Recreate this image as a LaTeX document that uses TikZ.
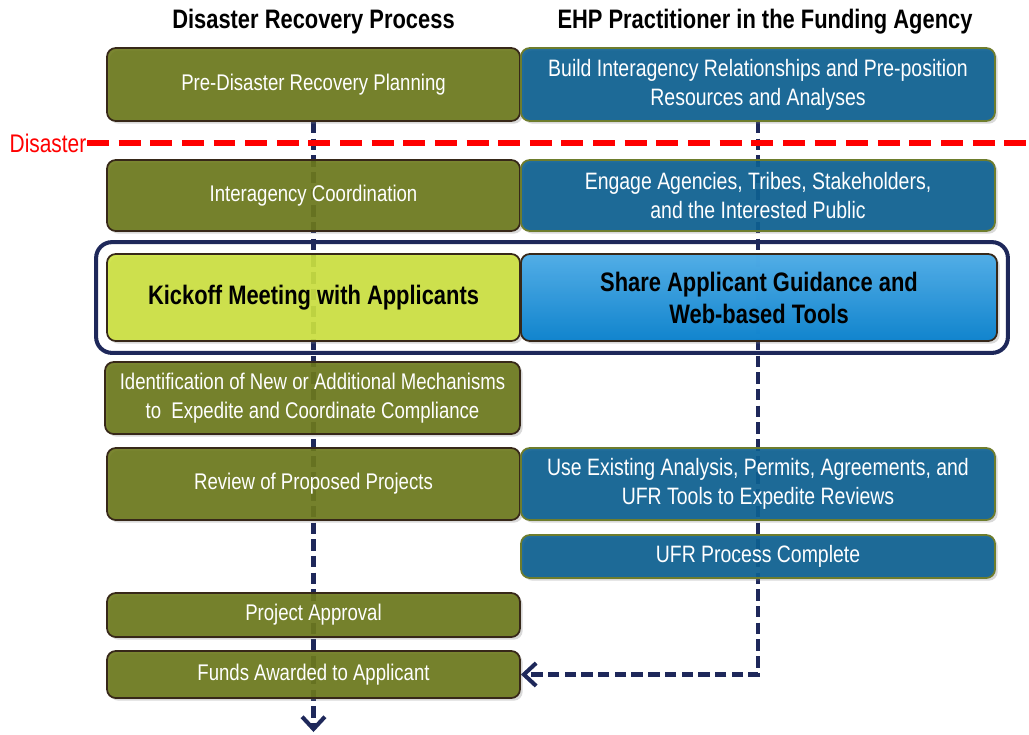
\documentclass[tikz,border=0pt]{standalone}
\usepackage{fontspec}
\setmainfont[FakeStretch=0.82]{Liberation Sans}
\usetikzlibrary{positioning,
                backgrounds,
                fit,
                arrows.meta,
                shadows}

\begin{document}
\begin{tikzpicture}[thick,
  stage/.style={draw=stageline,fill=stage,fill opacity=.9,text opacity=1,text=white,
    rounded corners=5pt,line width=1pt,align=center,inner sep=2pt,
    font=\fontsize{12.9}{16.5}\selectfont,minimum width=8.26cm,
    drop shadow={opacity=.3,shadow xshift=1.5pt,shadow yshift=-1.5pt}},
  ehp/.style={stage,draw=ehpline,fill=ehp,minimum width=9.48cm,font=\fontsize{13.5}{16.5}\selectfont},
  focus/.style={stage,text=black,font=\fontsize{15.2}{18.2}\selectfont\bfseries,minimum height=1.74cm},
  flow/.style={draw=flow,line width=2.3pt,dash pattern=on 6.5pt off 3pt},
  head/.style={font=\fontsize{15.2}{17}\selectfont\bfseries}]
\definecolor{stage}{RGB}{107,120,26}
\definecolor{stageline}{RGB}{55,40,25}
\definecolor{ehp}{RGB}{10,94,145} \definecolor{ehpline}{RGB}{110,125,45}
\definecolor{kick}{RGB}{204,226,62} \definecolor{share}{RGB}{16,142,222}
\definecolor{flow}{RGB}{30,40,90} \definecolor{disaster}{RGB}{255,0,0}
\useasboundingbox (0,0) rectangle (20.58,-14.68);
% column headings
\node [head] (lefthead) at (6.27,-0.44) {Disaster Recovery Process};
\node [head] (righthead) at (15.3,-0.44) {EHP Practitioner in the Funding Agency};
% before the disaster
\node [stage,minimum height=1.46cm] (pre) at (6.27,-1.69) {Pre-Disaster Recovery Planning};
\node [ehp,minimum height=1.46cm] (build) at (15.16,-1.69) {Build Interagency Relationships and Pre-position\\Resources and Analyses};
\node [text=disaster,font=\fontsize{14.5}{16}\selectfont,anchor=east,inner sep=0pt] (dis) at (1.74,-2.86) {Disaster};
\coordinate (disend) at (20.58,-2.86);
\draw [disaster,line width=3pt,dash pattern=on 12.5pt off 5.5pt] (dis.east) -- (disend);
% after the disaster
\node [stage,minimum height=1.42cm] (coord) at (6.27,-3.91) {Interagency Coordination};
\node [ehp,minimum height=1.42cm] (engage) at (15.16,-3.91) {Engage Agencies, Tribes, Stakeholders,\\and the Interested Public};
\node [focus,fill=kick] (kickoff) at (6.27,-5.95) {Kickoff Meeting with Applicants};
\node [focus,fill=share,minimum width=9.52cm,top color=share!70!white,bottom color=share!92!black] (guide) at (15.18,-5.95) {Share Applicant Guidance and\\Web-based Tools};
\node [stage,minimum height=1.44cm,minimum width=8.3cm] (mech) at (6.25,-7.96) {Identification of New or Additional Mechanisms\\to\ \ Expedite and Coordinate Compliance};
\node [stage,minimum height=1.44cm] (review) at (6.27,-9.68) {Review of Proposed Projects};
\node [ehp,minimum height=1.44cm] (existing) at (15.16,-9.68) {Use Existing Analysis, Permits, Agreements, and\\UFR Tools to Expedite Reviews};
\node [ehp,minimum height=.86cm] (ufr) at (15.16,-11.13) {UFR Process Complete};
\node [stage,minimum height=.88cm] (approval) at (6.27,-12.30) {Project Approval};
\node [stage,minimum height=.94cm] (funds) at (6.27,-13.49) {Funds Awarded to Applicant};
\coordinate (out) at (6.27,-14.64);
\begin{pgfonlayer}{background}
\node [draw=flow,line width=2.3pt,rounded corners=9pt,inner xsep=.2cm,inner ysep=.22cm,fit=(kickoff)(guide)] (frame) {};
\draw [flow,-{Straight Barb[length=7pt,width=13pt]}] (pre.south) -- (out);
\draw [flow,-{Straight Barb[length=7pt,width=13pt]}] (build.south) |- (funds.east);
\end{pgfonlayer}
\end{tikzpicture}
\end{document}
